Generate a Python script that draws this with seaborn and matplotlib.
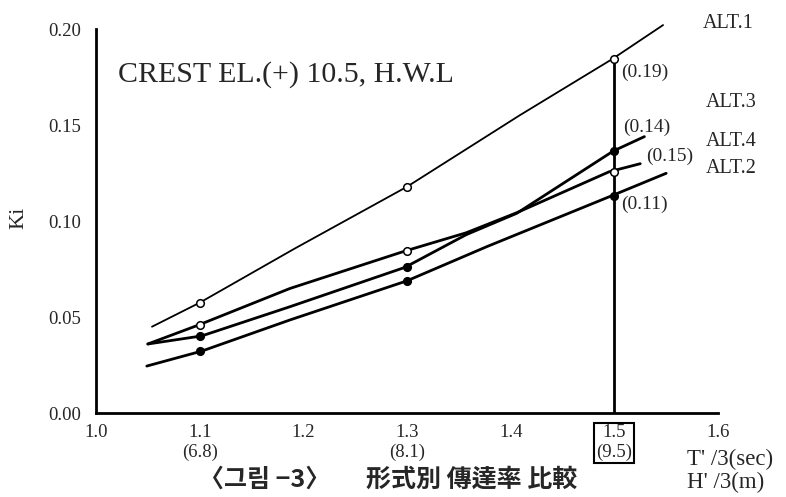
import matplotlib
matplotlib.use("Agg")
import matplotlib.pyplot as plt
import seaborn as sns

# curves (T1/3 vs Ki)
alt1_x = [1.054, 1.100, 1.192, 1.300, 1.409, 1.498, 1.547]
alt1_y = [0.0451, 0.0576, 0.0859, 0.1180, 0.1553, 0.1845, 0.2022]
alt3_x = [1.050, 1.102, 1.187, 1.298, 1.357, 1.406, 1.499, 1.529]
alt3_y = [0.0361, 0.0403, 0.0555, 0.0760, 0.0930, 0.1042, 0.1366, 0.1441]
alt4_x = [1.050, 1.099, 1.187, 1.298, 1.357, 1.406, 1.495, 1.525]
alt4_y = [0.0361, 0.0460, 0.0650, 0.0845, 0.0940, 0.1045, 0.1258, 0.1300]
alt2_x = [1.049, 1.102, 1.187, 1.300, 1.377, 1.497, 1.550]
alt2_y = [0.0246, 0.0324, 0.0486, 0.0690, 0.0868, 0.1132, 0.1250]

# measured points (markers)
mark_x = [1.1, 1.3, 1.5]
alt1_pts = [0.0576, 0.1180, 0.1845]
alt3_pts = [0.0403, 0.0760, 0.1366]
alt4_pts = [0.0460, 0.0845, 0.1258]
alt2_pts = [0.0324, 0.0690, 0.1132]

x_ticks = [1.0, 1.1, 1.2, 1.3, 1.4, 1.5, 1.6]
x_labels = ["1.0", "1.1\n(6.8)", "1.2", "1.3\n(8.1)", "1.4", "1.5\n(9.5)", "1.6"]
y_ticks = [0.00, 0.05, 0.10, 0.15, 0.20]

series_names = ["ALT.1", "ALT.3", "ALT.4", "ALT.2"]
value_notes = ["(0.19)", "(0.14)", "(0.15)", "(0.11)"]

sns.set_theme(style="white")
plt.rcParams["font.family"] = ["Liberation Serif", "DejaVu Serif"]

fig = plt.figure(figsize=(7.86, 4.97), dpi=100)
ax = fig.add_axes([96 / 786, 1 - 413.3 / 497, (718 - 96) / 786, (413.3 - 29.3) / 497])

curves = [
    (alt1_x, alt1_y, alt1_pts, "white", 1.3),
    (alt3_x, alt3_y, alt3_pts, "black", 2.0),
    (alt4_x, alt4_y, alt4_pts, "white", 2.0),
    (alt2_x, alt2_y, alt2_pts, "black", 2.0),
]
for xs, ys, pts, face, lw in curves:
    sns.lineplot(x=xs, y=ys, ax=ax, color="black", lw=lw, sort=False,
                 estimator=None, clip_on=False)
    sns.scatterplot(x=mark_x, y=pts, ax=ax, s=30, facecolor=face,
                    edgecolor="black", linewidth=1.1, zorder=5, clip_on=False)

# design wave line at T1/3 = 1.5
ax.plot([1.5, 1.5], [0, alt1_pts[2]], color="black", lw=2.0)

ax.set_xlim(1.0, 1.6)
ax.set_ylim(0.0, 0.20)
ax.set_xticks(x_ticks)
ax.set_xticklabels(x_labels, fontsize=13.5, linespacing=1.2)
ax.set_yticks(y_ticks)
ax.set_yticklabels([f"{v:.2f}" for v in y_ticks], fontsize=13.5)
ax.tick_params(axis="y", direction="out", length=5, width=1.5, pad=6)
ax.tick_params(axis="x", direction="inout", length=6, width=1.5, pad=5)
ax.get_xticklabels()[5].set_bbox(dict(boxstyle="square,pad=0.1", fc="none",
                                      ec="black", lw=1.5))
for side in ["top", "right"]:
    ax.spines[side].set_visible(False)
for side in ["left", "bottom"]:
    ax.spines[side].set_linewidth(2.0)
    ax.spines[side].set_color("black")

ax.set_ylabel("Ki", fontsize=16)
ax.yaxis.set_label_coords(-0.108, 0.51)

ax.text(1.021, 0.1727, "CREST EL.(+) 10.5, H.W.L", fontsize=21.5,
        va="baseline")

name_pos = [(1.585, 0.2007), (1.588, 0.1595), (1.588, 0.1392), (1.588, 0.1251)]
for name, (tx, ty) in zip(series_names, name_pos):
    ax.text(tx, ty, name, fontsize=14.5, va="baseline", clip_on=False)

note_pos = [(1.507, 0.1752), (1.508, 0.1465), (1.531, 0.1314), (1.507, 0.1064)]
for note, (tx, ty) in zip(value_notes, note_pos):
    ax.text(tx, ty, note, fontsize=14, va="baseline", clip_on=False)

fig.text(687 / 786, 1 - 465 / 497, "T' /3(sec)", fontsize=16.5, va="baseline")
fig.text(687 / 786, 1 - 488 / 497, "H' /3(m)", fontsize=16.5, va="baseline")

cjk = ["Noto Sans CJK KR", "DejaVu Sans"]
fig.text(199 / 786, 1 - 480 / 497, "〈그림 −3〉", fontsize=18, va="center",
         family=cjk, weight="bold")
fig.text(366 / 786, 1 - 480 / 497, "形式別 傳達率 比較", fontsize=18,
         va="center", family=cjk, weight="bold")

fig.savefig("out.png", dpi=100)
